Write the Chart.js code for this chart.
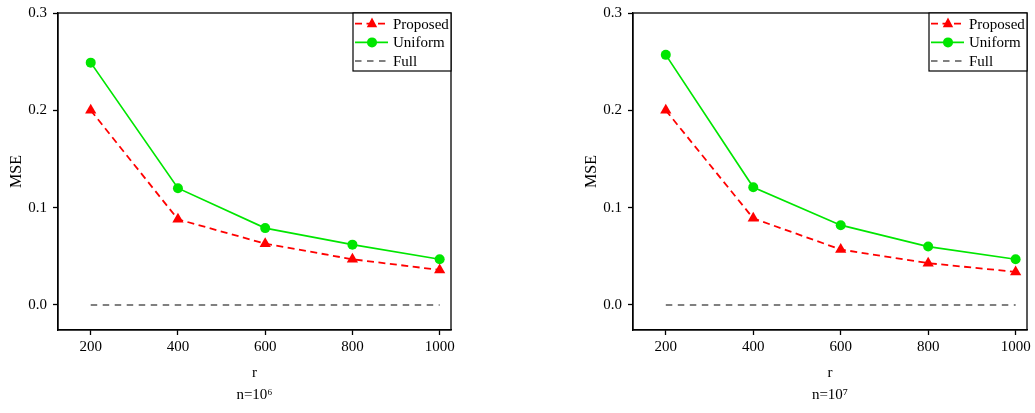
<!DOCTYPE html>
<html>
<head>
<meta charset="utf-8">
<script src="https://cdn.jsdelivr.net/npm/chart.js@4"></script>
<style>
  body { margin: 0; background: #fff; }
  #wrap { position: relative; width: 1035px; height: 413px; }
  canvas { position: absolute; top: 0; }
  #c1 { left: 0; }
  #c2 { left: 575px; }
</style>
</head>
<body>
<div id="wrap">
  <canvas id="c1" width="470" height="413"></canvas>
  <canvas id="c2" width="460" height="413"></canvas>
</div>
<script>
const rValues = [200, 400, 600, 800, 1000];
const yTicks = [0, 0.1, 0.2, 0.3];

const proposed6 = [0.200, 0.088, 0.063, 0.047, 0.036];
const uniform6 = [0.249, 0.120, 0.079, 0.062, 0.047];
const full6 = [0, 0, 0, 0, 0];

const proposed7 = [0.200, 0.089, 0.057, 0.043, 0.034];
const uniform7 = [0.257, 0.121, 0.082, 0.060, 0.047];
const full7 = [0, 0, 0, 0, 0];

const serif = "'Liberation Serif', 'Times New Roman', serif";
const red = "#ff0000";
const green = "#00e600";
const grey = "#808080";

const toPoints = (vals) => vals.map((v, i) => ({ x: rValues[i], y: v }));

// legend box + frame
const boxPlugin = {
  id: "boxPlugin",
  afterDatasetsDraw(chart) {
    const { ctx, chartArea } = chart;
    ctx.save();
    ctx.strokeStyle = "#000";
    ctx.lineWidth = 1.3;
    ctx.strokeRect(chartArea.left, chartArea.top, chartArea.right - chartArea.left, chartArea.bottom - chartArea.top);

    const w = 98, h = 58;
    const bx = chartArea.right - w, by = chartArea.top;
    ctx.fillStyle = "#fff";
    ctx.fillRect(bx, by, w, h);
    ctx.lineWidth = 1.2;
    ctx.strokeRect(bx, by, w, h);

    const rows = [10.7, 29.4, 48];
    chart.data.datasets.forEach((ds, i) => {
      const y = by + rows[i];
      ctx.strokeStyle = ds.borderColor;
      ctx.lineWidth = ds.borderWidth;
      ctx.setLineDash(ds.borderDash || []);
      ctx.beginPath();
      ctx.moveTo(bx + 2, y);
      ctx.lineTo(bx + 35, y);
      ctx.stroke();
      ctx.setLineDash([]);
      ctx.fillStyle = ds.borderColor;
      const mx = bx + 19;
      if (ds.pointRadius > 0) {
        ctx.beginPath();
        if (ds.pointStyle === "triangle") {
          const r = ds.pointRadius;
          ctx.moveTo(mx, y - r * 0.95);
          ctx.lineTo(mx + r * 0.8, y + r * 0.55);
          ctx.lineTo(mx - r * 0.8, y + r * 0.55);
          ctx.closePath();
        } else {
          ctx.arc(mx, y, ds.pointRadius, 0, Math.PI * 2);
        }
        ctx.fill();
      }
      ctx.fillStyle = "#000";
      ctx.font = "15px " + serif;
      ctx.textBaseline = "middle";
      ctx.textAlign = "left";
      ctx.fillText(ds.label, bx + 40, y + 1);
    });
    ctx.restore();
  }
};

function makeChart(el, proposed, uniform, full, nLabel, rightPad) {
  return new Chart(el, {
    type: "line",
    data: {
      datasets: [
        {
          label: "Proposed",
          data: toPoints(proposed),
          borderColor: red,
          backgroundColor: red,
          borderWidth: 1.8,
          borderDash: [7, 4.5],
          pointStyle: "triangle",
          pointRadius: 6.5,
          pointBorderWidth: 0,
        },
        {
          label: "Uniform",
          data: toPoints(uniform),
          borderColor: green,
          backgroundColor: green,
          borderWidth: 1.7,
          pointStyle: "circle",
          pointRadius: 5,
          pointBorderWidth: 0,
        },
        {
          label: "Full",
          data: toPoints(full),
          borderColor: grey,
          backgroundColor: grey,
          borderWidth: 1.8,
          borderDash: [6.5, 5.5],
          pointRadius: 0,
        },
      ],
    },
    options: {
      responsive: false,
      animation: false,
      layout: { padding: { top: 13, right: rightPad, left: 0, bottom: 0 } },
      plugins: { legend: { display: false }, tooltip: { enabled: false } },
      scales: {
        x: {
          type: "linear",
          min: 125,
          max: 1026,
          afterBuildTicks: (s) => { s.ticks = rValues.map((v) => ({ value: v })); },
          afterFit: (s) => { s.height = 83; s.paddingLeft = 0; s.paddingRight = 0; },
          grid: { drawOnChartArea: false, drawTicks: true, tickLength: 5, tickColor: "#000", tickWidth: 1.3 },
          border: { color: "#000", width: 1.3 },
          ticks: { color: "#000", font: { family: serif, size: 15 }, padding: 3, maxRotation: 0, callback: (v) => String(v) },
          title: {
            display: true,
            text: ["r", nLabel],
            color: "#000",
            font: { family: serif, size: 15, lineHeight: 1.45 },
            padding: { top: 0, bottom: 7 },
          },
        },
        y: {
          min: -0.0257,
          max: 0.3,
          afterBuildTicks: (s) => { s.ticks = yTicks.map((v) => ({ value: v })); },
          afterFit: (s) => { s.width = 58; s.paddingTop = 0; s.paddingBottom = 0; },
          grid: { drawOnChartArea: false, drawTicks: true, tickLength: 5, tickColor: "#000", tickWidth: 1.3 },
          border: { color: "#000", width: 1.3 },
          ticks: { color: "#000", font: { family: serif, size: 15 }, padding: 6, callback: (v) => v.toFixed(1) },
          title: {
            display: true,
            text: "MSE",
            color: "#000",
            font: { family: serif, size: 16, lineHeight: 1.2 },
            padding: { top: 7, bottom: 0 },
          },
        },
      },
    },
    plugins: [boxPlugin],
  });
}

makeChart(document.querySelector("#c1"), proposed6, uniform6, full6, "n=10\u2076", 19);
makeChart(document.querySelector("#c2"), proposed7, uniform7, full7, "n=10\u2077", 8);
</script>
</body>
</html>
